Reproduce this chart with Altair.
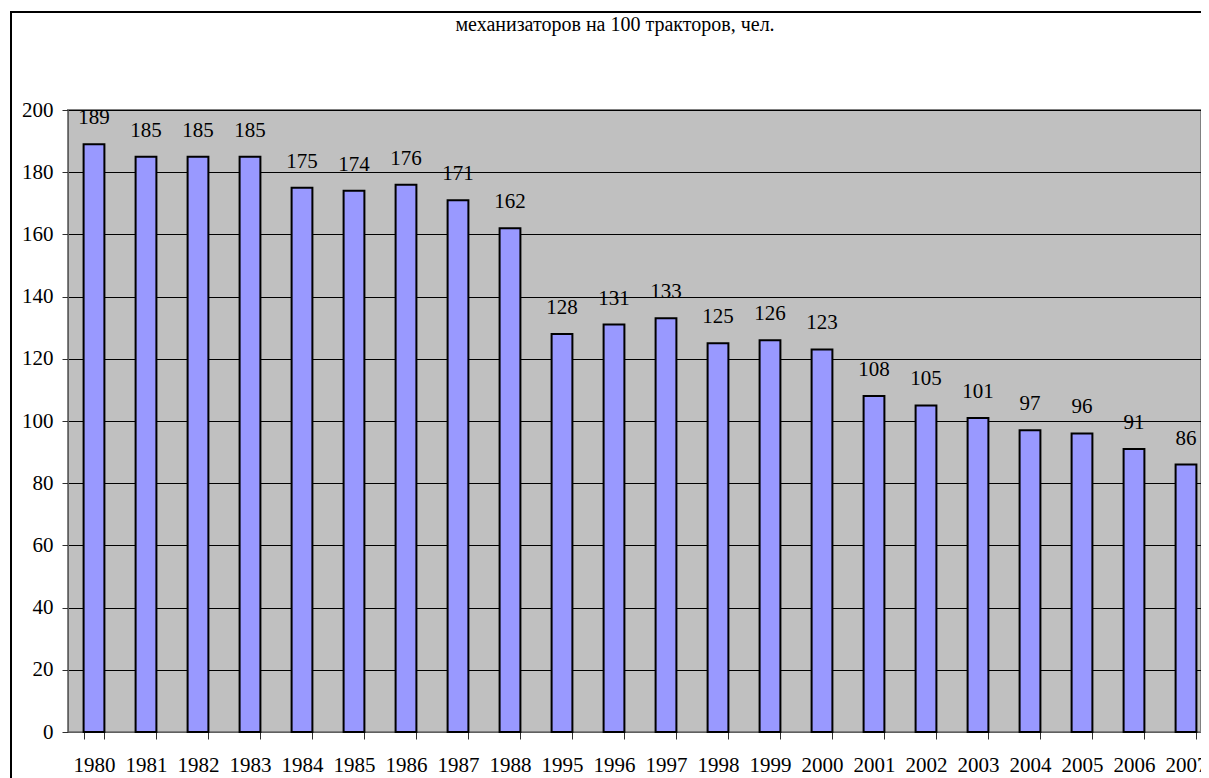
import altair as alt
import pandas as pd

years = ["1980", "1981", "1982", "1983", "1984", "1985", "1986", "1987", "1988",
         "1995", "1996", "1997", "1998", "1999", "2000", "2001", "2002", "2003",
         "2004", "2005", "2006", "2007"]
values = [189, 185, 185, 185, 175, 174, 176, 171, 162, 128, 131, 133, 125, 126,
          123, 108, 105, 101, 97, 96, 91, 86]

title_text = "механизаторов на 100 тракторов, чел."

df = pd.DataFrame({"year": years, "value": values})

W, H = 1133, 622
FONT = "Liberation Serif"

x_scale = alt.Scale(paddingInner=0.6, paddingOuter=0.3, range=[0, 1144])
x_enc = alt.X("year:N", sort=years, scale=x_scale,
              axis=alt.Axis(title=None, labelAngle=0, labelFont=FONT, labelFontSize=21,
                            labelColor="black", domainColor="#606060", tickColor="#303030",
                            tickSize=7, tickBand="extent", labelPadding=15, grid=False,
                            domainWidth=1))
y_enc = alt.Y("value:Q",
              scale=alt.Scale(domain=[0, 200], nice=False),
              axis=alt.Axis(title=None, values=list(range(0, 201, 20)), labelFont=FONT,
                            labelFontSize=21, labelColor="black", domainColor="#606060",
                            tickColor="#303030", tickSize=6, labelPadding=9,
                            grid=True, gridColor="black", gridWidth=1))

base = alt.Chart(df)

bars = base.mark_bar(color="#9999FF", stroke="black", strokeWidth=2).encode(x=x_enc, y=y_enc)
labels = base.mark_text(font=FONT, fontSize=21, color="black", baseline="middle",
                        dy=-26).encode(x=alt.X("year:N", sort=years, scale=x_scale),
                                       y="value:Q", text="value:Q")

one = pd.DataFrame({"t": [title_text]})
frame = alt.Chart(one).mark_rect(
    fill=None, stroke="black", strokeWidth=2, clip=False
).encode(x=alt.value(-57), x2=alt.value(1200), y=alt.value(-98), y2=alt.value(720))

title = alt.Chart(one).mark_text(font=FONT, fontSize=20, color="black",
                                 baseline="middle", align="center").encode(
    x=alt.value(547), y=alt.value(-85), text="t:N")

chart = alt.layer(bars, labels, frame, title).properties(
    width=W, height=H,
    background="white",
    autosize=alt.AutoSizeParams(type="none"),
    padding={"left": 60, "top": 102, "right": 0, "bottom": 46},
).configure_view(fill="#C0C0C0", stroke="#808080", strokeWidth=2)

chart.save("out.html", embed_options={"renderer": "svg", "actions": False})
